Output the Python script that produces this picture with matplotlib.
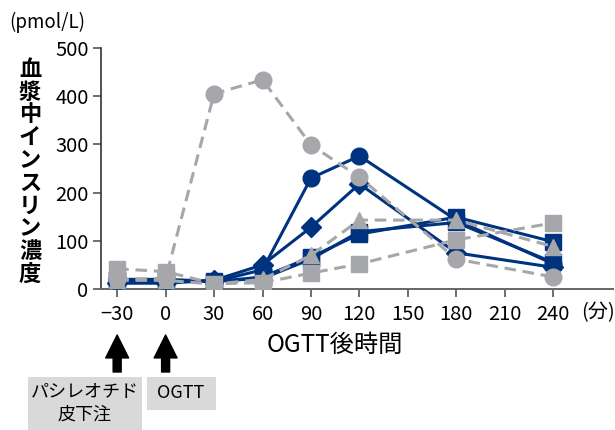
import matplotlib
matplotlib.use("Agg")
import matplotlib.pyplot as plt
from matplotlib import transforms
from matplotlib.patches import Rectangle, FancyArrowPatch

plt.rcParams['font.family'] = ['Noto Sans CJK JP', 'DejaVu Sans']

# ---- data ----
time_points = [-30, 0, 30, 60, 90, 120, 180, 240]
x_ticks = [-30, 0, 30, 60, 90, 120, 150, 180, 210, 240]
x_tick_labels = ['−30', '0', '30', '60', '90', '120', '150', '180', '210', '240']
y_ticks = [0, 100, 200, 300, 400, 500]

navy_circle = [18, 18, 15, 40, 230, 276, 143, 52]
navy_diamond = [12, 12, 18, 50, 128, 218, 75, 45]
navy_square = [18, 18, 15, 25, 66, 114, 149, 98]
navy_square2 = [20, 20, 16, 22, 62, 119, 138, 55]

gray_circle = [20, 22, 405, 434, 299, 232, 62, 25]
gray_triangle = [18, 18, 10, 20, 70, 143, 143, 88]
gray_square = [42, 36, 11, 13, 33, 52, 102, 137]

NAVY = '#00337f'
GRAY = '#a5a7aa'

fig = plt.figure(figsize=(6.15, 4.30), dpi=100)
ax = fig.add_axes([101/615, 1-289/430, (613-101)/615, (289-48)/430])

lw = 2.2
ms = 12
# navy solid series
ax.plot(time_points, navy_square2, color=NAVY, lw=lw, marker='s', ms=ms, zorder=3)
ax.plot(time_points, navy_square, color=NAVY, lw=lw, marker='s', ms=ms, zorder=3)
ax.plot(time_points, navy_circle, color=NAVY, lw=lw, marker='o', ms=ms, zorder=3)
ax.plot(time_points, navy_diamond, color=NAVY, lw=lw, marker='D', ms=10.5, zorder=3)

# gray dashed series
dash = (3.8, 2.2)
ax.plot(time_points, gray_circle, color=GRAY, lw=lw, ls=(0, dash), marker='o', ms=ms, zorder=4)
ax.plot(time_points, gray_triangle, color=GRAY, lw=lw, ls=(0, dash), marker='^', ms=ms, zorder=4)
ax.plot(time_points, gray_square, color=GRAY, lw=lw, ls=(0, dash), marker='s', ms=ms, zorder=4)

ax.set_xlim(-40, 277)
ax.set_ylim(0, 500)
ax.set_xticks(x_ticks)
ax.set_xticklabels(x_tick_labels)
ax.set_yticks(y_ticks)
ax.tick_params(axis='both', labelsize=14.5, direction='out', length=6, width=1.2,
               colors='#555555', labelcolor='black')
ax.tick_params(axis='x', pad=5)
ax.tick_params(axis='y', pad=3)
for s in ['top', 'right']:
    ax.spines[s].set_visible(False)
ax.spines['left'].set_color('#333333')
ax.spines['bottom'].set_color('#666666')
ax.spines['left'].set_linewidth(1.2)
ax.spines['bottom'].set_linewidth(1.4)

# unit label for x axis
tx = transforms.blended_transform_factory(ax.transData, fig.transFigure)
ax.text(268, 1-313/430, '(分)', transform=tx, fontsize=14.5, ha='center', va='center')

# axis labels
fig.text(335/615, 1-345/430, 'OGTT後時間', fontsize=17.5, ha='center', va='center')
fig.text(47/615, 1-22/430, '(pmol/L)', fontsize=13.5, ha='center', va='center')
fig.text(30/615, 1-172/430, '\n'.join('血漿中インスリン濃度'), fontsize=16,
         fontweight='bold', ha='center', va='center', linespacing=0.99)

# arrows
for xv in [-30, 0]:
    arr = FancyArrowPatch((xv, 1-372/430), (xv, 1-335/430), transform=tx,
                          arrowstyle='simple,head_length=1.0,head_width=1.0,tail_width=0.35',
                          mutation_scale=16.5, color='black', shrinkA=0, shrinkB=0,
                          clip_on=False)
    fig.add_artist(arr)

# boxes
BOX = '#d9d9d9'
fig.add_artist(Rectangle((28/615, 0), (142-28)/615, (430-377)/430,
                         transform=fig.transFigure, facecolor=BOX, edgecolor='none'))
fig.add_artist(Rectangle((147/615, 1-410/430), (216-147)/615, (410-377)/430,
                         transform=fig.transFigure, facecolor=BOX, edgecolor='none'))
fig.text(85/615, 1-392/430, 'パシレオチド', fontsize=13, ha='center', va='center')
fig.text(85/615, 1-415/430, '皮下注', fontsize=13, ha='center', va='center')
fig.text(181/615, 1-393/430, 'OGTT', fontsize=13, ha='center', va='center')

fig.savefig('out.png', dpi=100)
